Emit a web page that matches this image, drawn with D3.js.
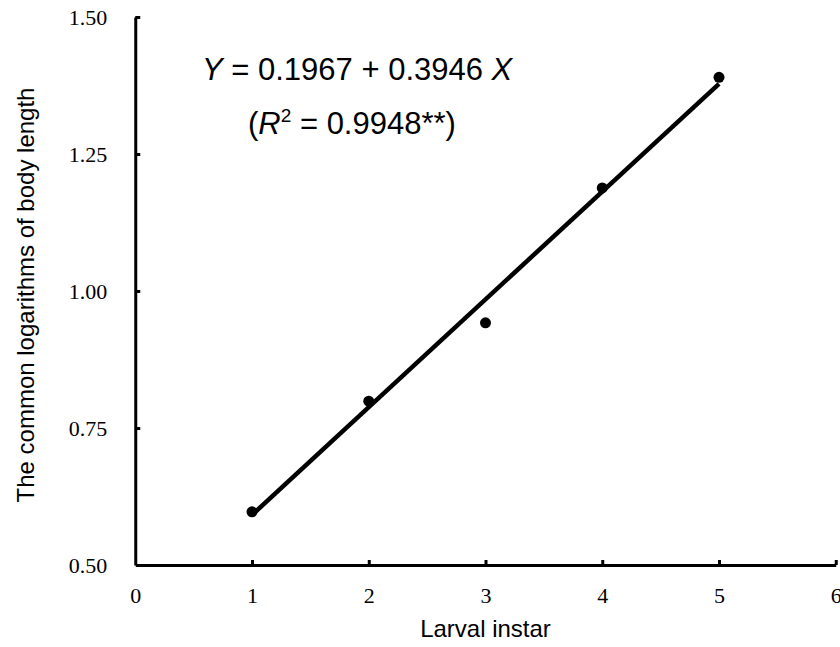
<!DOCTYPE html>
<html>
<head>
<meta charset="utf-8">
<script src="https://cdn.jsdelivr.net/npm/d3@7"></script>
<style>
  body { margin: 0; background: #fff; }
  svg { display: block; }
</style>
</head>
<body>
<div id="chart"></div>
<script>
// data
var instars = [1, 2, 3, 4, 5];
var logLength = [0.597, 0.799, 0.942, 1.188, 1.390];
var xTicks = [0, 1, 2, 3, 4, 5, 6];
var yTicks = [0.50, 0.75, 1.00, 1.25, 1.50];
// fitted line as drawn (intercept, slope)
var fitIntercept = 0.3946, fitSlope = 0.1967;

var width = 840, height = 647;
var x = d3.scaleLinear().domain([0, 6]).range([135.25, 835.75]);
var y = d3.scaleLinear().domain([0.5, 1.5]).range([565, 17]);

var svg = d3.select("#chart").append("svg")
    .attr("width", width)
    .attr("height", height);

// x axis
var gx = svg.append("g")
    .attr("transform", "translate(0," + y(0.5) + ")")
    .call(d3.axisBottom(x).tickValues(xTicks).tickFormat(d3.format("d"))
        .tickSizeInner(-5).tickSizeOuter(0).tickPadding(22));

// y axis
var gy = svg.append("g")
    .attr("transform", "translate(" + x(0) + ",0)")
    .call(d3.axisLeft(y).tickValues(yTicks).tickFormat(d3.format(".2f"))
        .tickSizeInner(-5).tickSizeOuter(0).tickPadding(28));

[gx, gy].forEach(function(g) {
    g.select(".domain").attr("stroke", "#000").attr("stroke-width", 3);
    g.selectAll(".tick line").attr("stroke", "#000").attr("stroke-width", 3);
    g.selectAll(".tick text")
        .attr("fill", "#000")
        .style("font-family", "'Liberation Serif', 'Times New Roman', serif")
        .style("font-size", "22px");
});
// no tick mark at the origin
gx.selectAll(".tick").filter(function(d) { return d === 0; }).select("line").remove();
gy.selectAll(".tick").filter(function(d) { return d === 0.5; }).select("line").remove();

// regression line
var line = d3.line()
    .x(function(d) { return x(d); })
    .y(function(d) { return y(fitIntercept + fitSlope * d); });

svg.append("path")
    .datum([instars[0], instars[instars.length - 1]])
    .attr("d", line)
    .attr("fill", "none")
    .attr("stroke", "#000")
    .attr("stroke-width", 4.5);

// points
svg.selectAll("circle.pt")
    .data(instars)
    .enter().append("circle")
    .attr("class", "pt")
    .attr("cx", function(d) { return x(d); })
    .attr("cy", function(d, i) { return y(logLength[i]); })
    .attr("r", 5.5)
    .attr("fill", "#000");

// axis titles
svg.append("text")
    .attr("x", (x(0) + x(6)) / 2)
    .attr("y", 637)
    .attr("text-anchor", "middle")
    .style("font-family", "'Liberation Sans', Arial, sans-serif")
    .style("font-size", "24px")
    .text("Larval instar");

svg.append("text")
    .attr("transform", "translate(34," + ((y(0.5) + y(1.5)) / 2 + 4) + ") rotate(-90)")
    .attr("text-anchor", "middle")
    .style("font-family", "'Liberation Sans', Arial, sans-serif")
    .style("font-size", "24px")
    .text("The common logarithms of body length");

// equation
var eq = svg.append("g")
    .style("font-family", "'Liberation Sans', Arial, sans-serif")
    .style("font-size", "31px");

var t1 = eq.append("text").attr("x", 202).attr("y", 80);
t1.append("tspan").style("font-style", "italic").text("Y");
t1.append("tspan").text(" = 0.1967 + 0.3946 ");
t1.append("tspan").style("font-style", "italic").text("X");

var t2 = eq.append("text").attr("x", 248).attr("y", 134);
t2.append("tspan").text("(");
t2.append("tspan").style("font-style", "italic").text("R");
t2.append("tspan").attr("dy", -12).style("font-size", "19px").text("2");
t2.append("tspan").attr("dy", 12).text(" = 0.9948**)");
</script>
</body>
</html>
